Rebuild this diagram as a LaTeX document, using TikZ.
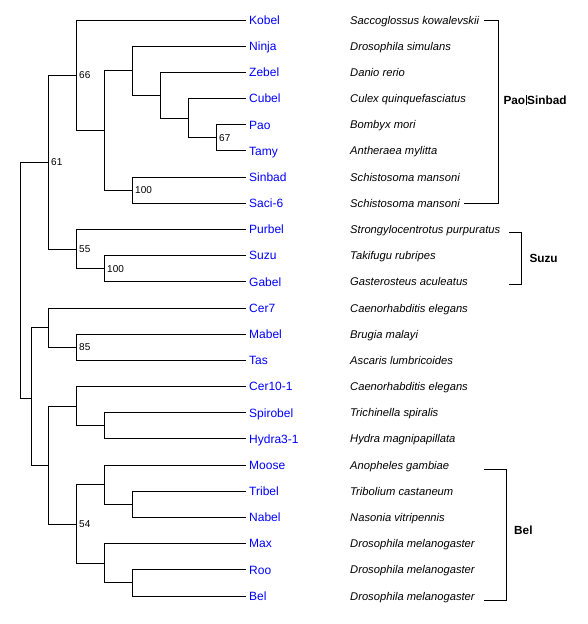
\documentclass[tikz,border=0pt]{standalone}
\usepackage{fontspec}
\setmainfont{Liberation Sans}
\begin{document}
\begin{tikzpicture}[x=1pt,y=-1pt,
  edge/.style={line width=1pt},
  leaf/.style={anchor=base west,inner sep=0pt,text={rgb,255:red,0;green,0;blue,255},font=\fontsize{12}{14}\selectfont},
  sp/.style={anchor=base west,inner sep=0pt,font=\fontsize{11.2}{13}\selectfont\itshape},
  bs/.style={anchor=base west,inner sep=0pt,font=\fontsize{10}{12}\selectfont},
  grp/.style={anchor=base west,inner sep=0pt,font=\fontsize{11.8}{13}\selectfont\bfseries}]
\useasboundingbox (0,0) rectangle (588,624);
% ---------- leaves ----------
\def\lx{245.7}
\foreach \nm/\lab/\spec/\yy in {
  Kobel/Kobel/Saccoglossus kowalevskii/20,
  Ninja/Ninja/Drosophila simulans/46.2,
  Zebel/Zebel/Danio rerio/72.4,
  Cubel/Cubel/Culex quinquefasciatus/98.5,
  Pao/Pao/Bombyx mori/124.7,
  Tamy/Tamy/Antheraea mylitta/150.9,
  Sinbad/Sinbad/Schistosoma mansoni/177.1,
  Saci/Saci-6/Schistosoma mansoni/203.3,
  Purbel/Purbel/Strongylocentrotus purpuratus/229.4,
  Suzu/Suzu/Takifugu rubripes/255.6,
  Gabel/Gabel/Gasterosteus aculeatus/281.8,
  Cer7/Cer7/Caenorhabditis elegans/308,
  Mabel/Mabel/Brugia malayi/334.2,
  Tas/Tas/Ascaris lumbricoides/360.3,
  Cer10/Cer10-1/Caenorhabditis elegans/386.5,
  Spirobel/Spirobel/Trichinella spiralis/412.7,
  Hydra/Hydra3-1/Hydra magnipapillata/438.9,
  Moose/Moose/Anopheles gambiae/465.1,
  Tribel/Tribel/Tribolium castaneum/491.2,
  Nabel/Nabel/Nasonia vitripennis/517.4,
  Max/Max/Drosophila melanogaster/543.6,
  Roo/Roo/Drosophila melanogaster/569.8,
  Bel/Bel/Drosophila melanogaster/596}{
  \coordinate (\nm) at (\lx,\yy);
  \node[leaf] (l\nm) at (249,\yy+4.3) {\lab};
  \node[sp] (s\nm) at (350,\yy+4) {\spec};
}
% ---------- internal nodes ----------
\coordinate (nPT)   at (216.7,137.8);
\coordinate (nCPT)  at (188.7,118.2);
\coordinate (nZ)    at (160.7,95.3);
\coordinate (nN)    at (132.7,70.7);
\coordinate (nSS)   at (132.7,190.2);
\coordinate (nA)    at (104.7,130.5);
\coordinate (n66)   at (76.7,75.3);
\coordinate (nGS)   at (104.7,268.7);
\coordinate (n55)   at (76.7,249);
\coordinate (n61)   at (48.7,162.2);
\coordinate (n85)   at (76.7,347.3);
\coordinate (nC7)   at (48.7,327.6);
\coordinate (nSH)   at (104.7,425.8);
\coordinate (nC10)  at (76.7,406.1);
\coordinate (nTN)   at (132.7,504.3);
\coordinate (nMo)   at (104.7,484.7);
\coordinate (nRB)   at (132.7,582.9);
\coordinate (nMx)   at (104.7,563.2);
\coordinate (n54)   at (76.7,524);
\coordinate (nB)    at (48.7,465);
\coordinate (nNem)  at (31.3,398);
\coordinate (root)  at (20.7,280);
% ---------- edges ----------
\foreach \p/\c in {nPT/Pao,nPT/Tamy,nCPT/Cubel,nCPT/nPT,nZ/Zebel,nZ/nCPT,
  nN/Ninja,nN/nZ,nSS/Sinbad,nSS/Saci,nA/nN,nA/nSS,n66/Kobel,n66/nA,
  nGS/Suzu,nGS/Gabel,n55/Purbel,n55/nGS,n61/n66,n61/n55,
  n85/Mabel,n85/Tas,nC7/Cer7,nC7/n85,nSH/Spirobel,nSH/Hydra,nC10/Cer10,nC10/nSH,
  nTN/Tribel,nTN/Nabel,nMo/Moose,nMo/nTN,nRB/Roo,nRB/Bel,nMx/Max,nMx/nRB,
  n54/nMo,n54/nMx,nB/nC10,nB/n54,nNem/nC7,nNem/nB,root/n61,root/nNem}{
  \draw[edge] (\p) |- (\c);
}
% ---------- bootstrap values ----------
\node[bs] (b61)  at ([xshift=2.3pt,yshift=-3.6pt]n61)  {61};
\node[bs] (b66)  at ([xshift=2.3pt,yshift=-3.6pt]n66)  {66};
\node[bs] (b67)  at ([xshift=2.3pt,yshift=-3.6pt]nPT)  {67};
\node[bs] (b100a) at ([xshift=2.3pt,yshift=-3.6pt]nSS) {100};
\node[bs] (b55)  at ([xshift=2.3pt,yshift=-3.6pt]n55)  {55};
\node[bs] (b100b) at ([xshift=2.3pt,yshift=-3.6pt]nGS) {100};
\node[bs] (b85)  at ([xshift=2.3pt,yshift=-3.6pt]n85)  {85};
\node[bs] (b54)  at ([xshift=2.3pt,yshift=-3.6pt]n54)  {54};
% ---------- group brackets ----------
\coordinate (ps1) at (484.3,20);  \coordinate (ps2) at (498.7,20);
\coordinate (ps3) at (498.7,203); \coordinate (ps4) at (464.3,203);
\draw[edge] (ps1) -- (ps2) -- (ps3) -- (ps4);
\node[grp] (gPS) at (503.3,104.2) {Pao\kern0.8pt\rule[-0.3pt]{0.7pt}{9.5pt}\kern0.6pt Sinbad};
\coordinate (sz1) at (509,232);   \coordinate (sz2) at (521.7,232);
\coordinate (sz3) at (521.7,284.5); \coordinate (sz4) at (509,284.5);
\draw[edge] (sz1) -- (sz2) -- (sz3) -- (sz4);
\node[grp] (gSZ) at (529.3,262.2) {Suzu};
\coordinate (be1) at (483.8,469); \coordinate (be2) at (506.7,469);
\coordinate (be3) at (506.7,600); \coordinate (be4) at (483.8,600);
\draw[edge] (be1) -- (be2) -- (be3) -- (be4);
\node[grp] (gBE) at (514,534.2) {Bel};
\end{tikzpicture}
\end{document}
